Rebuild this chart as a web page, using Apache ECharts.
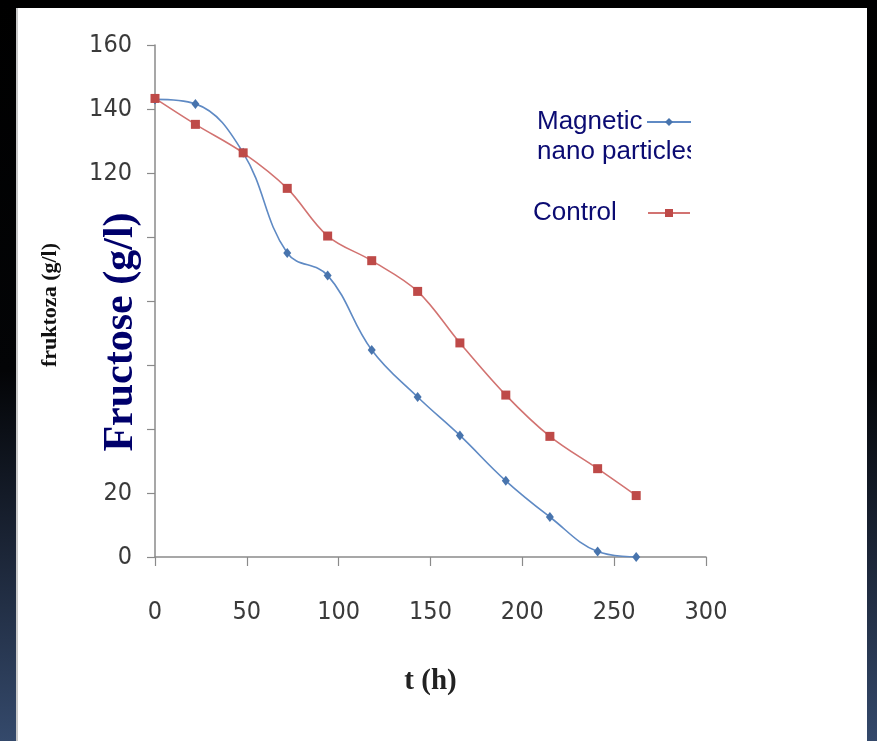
<!DOCTYPE html>
<html>
<head>
<meta charset="utf-8">
<script src="https://cdn.jsdelivr.net/npm/echarts@6/dist/echarts.min.js"></script>
<style>
  html, body { margin: 0; padding: 0; }
  body {
    width: 877px; height: 741px; overflow: hidden; position: relative;
    background: linear-gradient(to bottom, #000 0%, #030406 50%, #1c2638 75%, #34496b 100%);
  }
  #panel {
    position: absolute; left: 16px; top: 8px; width: 851px; height: 733px;
    background: #fff; border-left: 2px solid #c9c9c9; box-sizing: border-box;
  }
  #chart { position: absolute; left: 0; top: 0; width: 877px; height: 741px; }
</style>
</head>
<body>
<div id="panel"></div>
<div id="chart"></div>
<script>
// ---- data ----
const timeHours   = [0, 22, 48, 72, 94, 118, 143, 166, 191, 215, 241, 262];
const magnetic    = [143, 141.6, 126.3, 95, 88, 64.7, 50, 38, 23.8, 12.5, 1.7, 0];
const control     = [143.3, 135.2, 126.3, 115.2, 100.3, 92.6, 83, 66.9, 50.6, 37.7, 27.6, 19.2];
const seriesNames = ['Magnetic nano particles', 'Control'];
const xTicks      = [0, 50, 100, 150, 200, 250, 300];
const yTicks      = [0, 20, 40, 60, 80, 100, 120, 140, 160];
const yShownTickLabels = [0, 20, 120, 140, 160];   // others hidden under the overlaid title
const xTitle      = 't (h)';
const yTitleSmall = 'fruktoza (g/l)';
const yTitleBig   = 'Fructose (g/l)';

const tickFont = "'Liberation Sans Narrow', 'DejaVu Sans Condensed', 'Roboto', sans-serif";
const legendFont = "'Liberation Sans', Arial, sans-serif";
const serif = "'Liberation Serif', 'DejaVu Serif', serif";
const navy = '#0b0b72';

const chart = echarts.init(document.getElementById('chart'), null, { renderer: 'canvas' });

const pairs = (ys) => timeHours.map((t, i) => [t, ys[i]]);

chart.setOption({
  animation: false,
  backgroundColor: 'transparent',
  grid: { left: 155, right: 171, top: 45, bottom: 184, containLabel: false },
  xAxis: {
    type: 'value',
    min: xTicks[0], max: xTicks[xTicks.length - 1], interval: xTicks[1] - xTicks[0],
    name: xTitle, nameLocation: 'middle', nameGap: 110,
    nameTextStyle: { fontFamily: serif, fontWeight: 'bold', fontSize: 29, color: '#222' },
    axisLine: { show: true, lineStyle: { color: '#8a8a8a', width: 1.5 } },
    axisTick: { show: true, length: 9, lineStyle: { color: '#8a8a8a', width: 1.2 } },
    axisLabel: { margin: 43, fontFamily: tickFont, fontSize: 25, color: '#3a3a3a' },
    splitLine: { show: false }
  },
  yAxis: {
    type: 'value',
    min: yTicks[0], max: yTicks[yTicks.length - 1], interval: yTicks[1] - yTicks[0],
    axisLine: { show: true, lineStyle: { color: '#8a8a8a', width: 1.5 } },
    axisTick: { show: true, length: 8, lineStyle: { color: '#8a8a8a', width: 1.2 } },
    axisLabel: {
      margin: 23, fontFamily: tickFont, fontSize: 25, color: '#3a3a3a',
      formatter: (v) => (yShownTickLabels.indexOf(v) >= 0 ? String(v) : '')
    },
    splitLine: { show: false }
  },
  legend: [
    {
      data: [seriesNames[0]],
      orient: 'horizontal', align: 'right', padding: 0, itemGap: 0,
      left: 537, top: 77,
      itemWidth: 44, itemHeight: 10,
      formatter: () => '{a|Magnetic}\n{a|nano particles}',
      textStyle: {
        color: navy, fontFamily: legendFont, fontSize: 26, lineHeight: 30,
        padding: [30, 0, 0, 0],
        rich: { a: { width: 105, align: 'left', color: navy, fontFamily: legendFont, fontSize: 26, lineHeight: 30 } }
      }
    },
    {
      data: [seriesNames[1]],
      orient: 'horizontal', align: 'right', padding: 0, itemGap: 0,
      left: 533, top: 198,
      itemWidth: 42, itemHeight: 10,
      formatter: () => '{a|Control}',
      textStyle: {
        color: navy, fontFamily: legendFont, fontSize: 26, lineHeight: 30,
        rich: { a: { width: 110, align: 'left', color: navy, fontFamily: legendFont, fontSize: 26, lineHeight: 30 } }
      }
    }
  ],
  series: [
    {
      name: seriesNames[0], type: 'line', data: pairs(magnetic),
      smooth: 0.4, symbol: 'diamond', symbolSize: [8, 10],
      lineStyle: { color: '#5f8ac4', width: 1.6 },
      itemStyle: { color: '#4874ad' },
      z: 3
    },
    {
      name: seriesNames[1], type: 'line', data: pairs(control),
      smooth: 0.35, symbol: 'rect', symbolSize: 9,
      lineStyle: { color: '#d27371', width: 1.6 },
      itemStyle: { color: '#be4a48' },
      z: 4
    }
  ],
  graphic: [
    {
      type: 'rect', z: 100, silent: true,
      shape: { x: 691, y: 90, width: 70, height: 150 },
      style: { fill: '#ffffff' }
    },
    {
      type: 'text', z: 50, x: 50, y: 305, rotation: Math.PI / 2,
      style: {
        text: yTitleSmall, fontFamily: serif, fontWeight: 'bold', fontSize: 22,
        fill: '#111', align: 'center', verticalAlign: 'middle'
      }
    },
    {
      type: 'text', z: 50, x: 121, y: 332, rotation: Math.PI / 2,
      style: {
        text: yTitleBig, fontFamily: serif, fontWeight: 'bold', fontSize: 42,
        fill: '#00006b', align: 'center', verticalAlign: 'middle'
      }
    }
  ]
});
</script>
</body>
</html>
